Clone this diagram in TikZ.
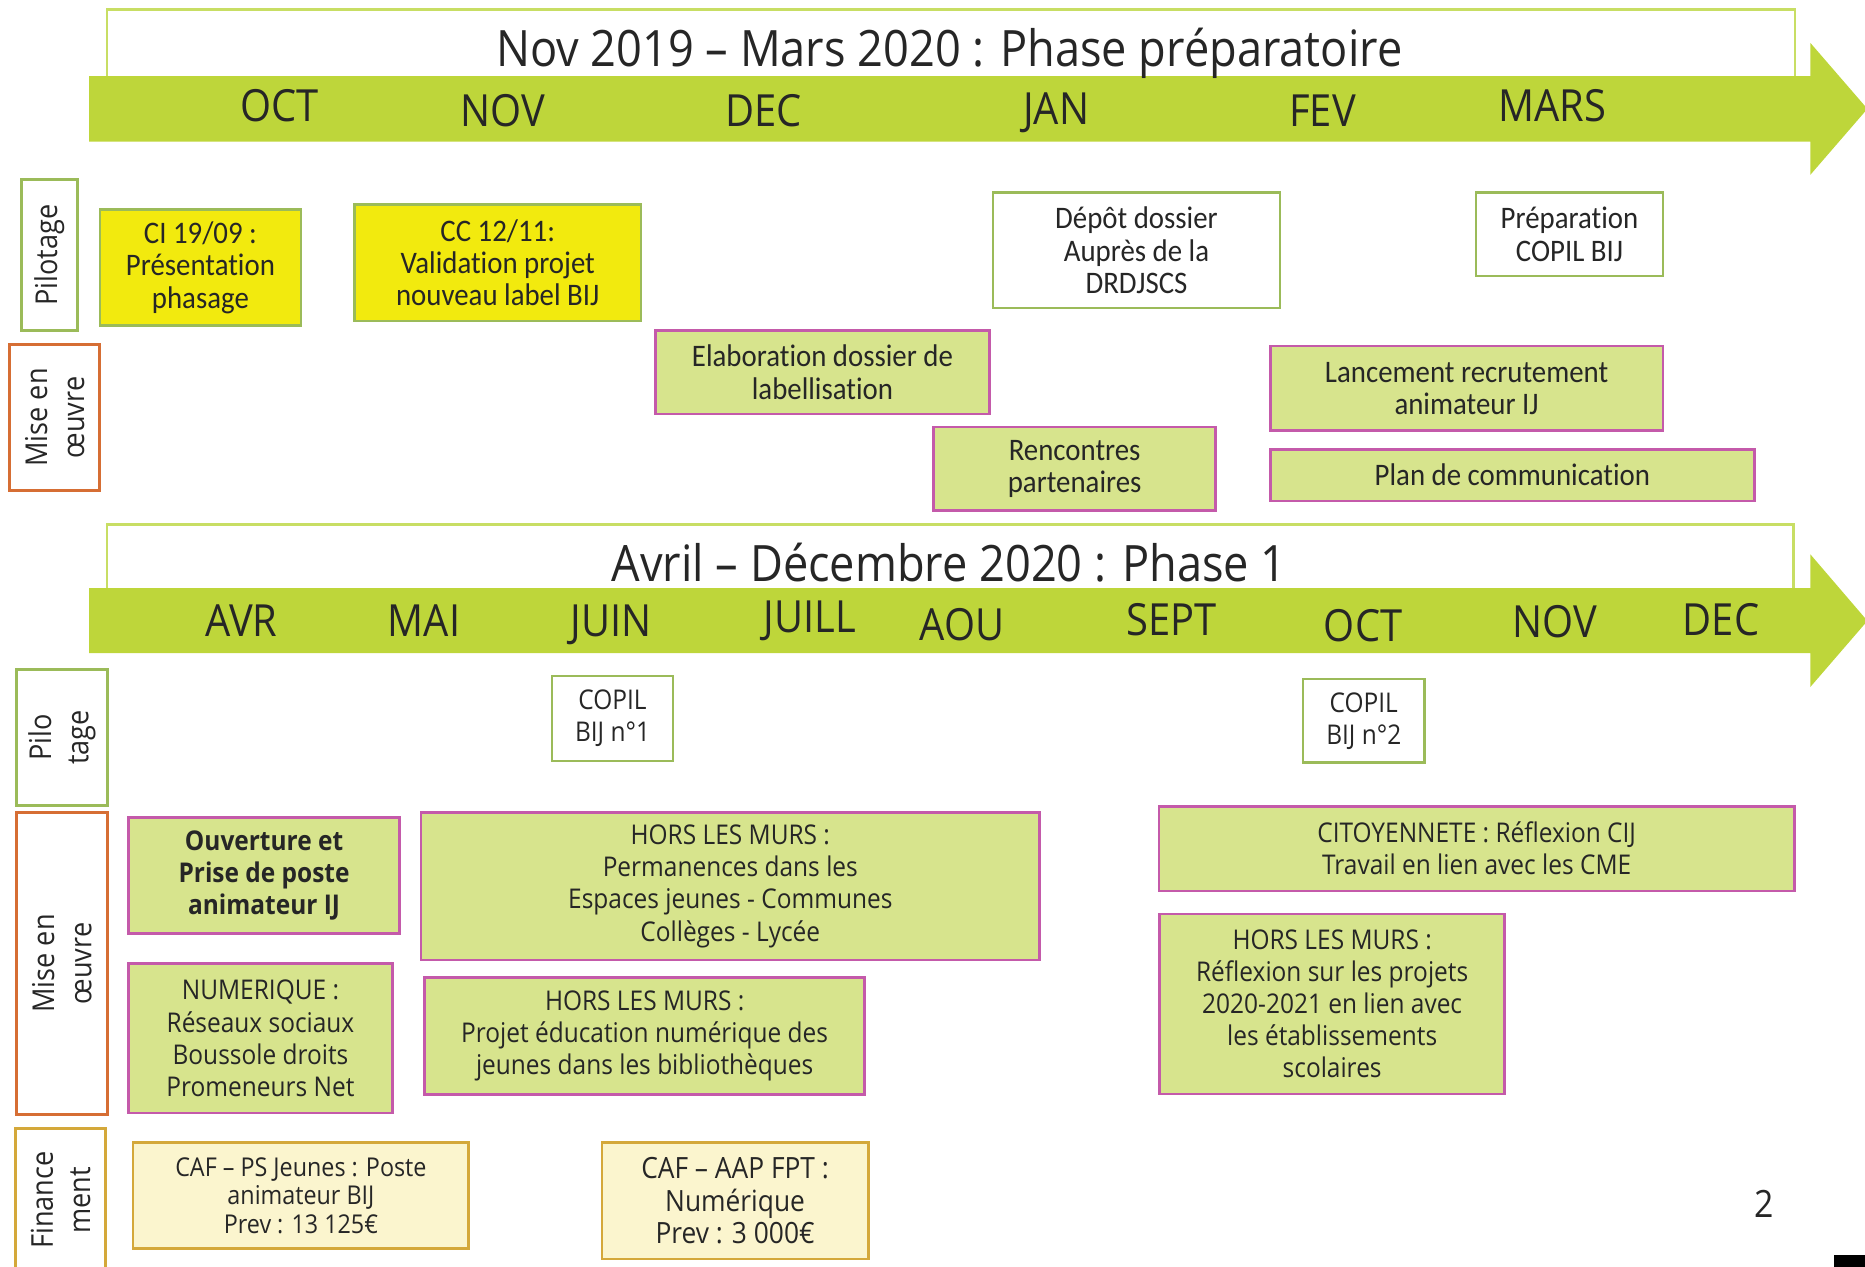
\documentclass[tikz,border=0pt]{standalone}
\usepackage{fontspec}
\setmainfont[FakeStretch=0.9]{Open Sans}
\newfontfamily\narrowfont[FakeStretch=0.92,Ligatures=NoCommon]{Carlito}
\usetikzlibrary{positioning}
\definecolor{limeband}{RGB}{190,214,58}
\definecolor{frameline}{RGB}{200,222,100}
\definecolor{olivegreen}{RGB}{155,187,89}
\definecolor{lemon}{RGB}{242,234,14}
\definecolor{palegreen}{RGB}{215,228,141}
\definecolor{orchid}{RGB}{196,90,170}
\definecolor{cream}{RGB}{251,245,206}
\definecolor{ochre}{RGB}{212,168,58}
\definecolor{rust}{RGB}{214,110,52}
\definecolor{ink}{RGB}{38,38,38}
\tikzset{
    % Timeline
    band color/.style={fill=limeband},
    title frame/.style={draw=frameline, line width=.6pt},
    phase title/.style={font=\fontsize{12}{14}\selectfont},
    month label/.style={font=\fontsize{10.6}{12}\selectfont},
    %
    % Row labels (rotated)
    row label/.style={draw, rotate=90, line width=.7pt, fill=white, inner sep=0pt, align=center, font=\fontsize{7.2}{8.9}\selectfont},
    steering label/.style={row label, draw=olivegreen},
    action label/.style={row label, draw=rust},
    funding label/.style={row label, draw=ochre},
    %
    % Boxes
    sized/.style 2 args={minimum width=#1cm, minimum height=#2cm},
    task/.style={draw, line width=.6pt, inner sep=0pt, align=center, font=\fontsize{6.5}{7.7}\selectfont},
    narrow/.style={font=\narrowfont\fontsize{7.5}{7.7}\selectfont},
    decision/.style={task, narrow, fill=lemon, draw=olivegreen},
    meeting/.style={task, fill=white, draw=olivegreen},
    action/.style={task, fill=palegreen, draw=orchid},
    funding/.style={task, fill=cream, draw=ochre, font=\fontsize{6.2}{6.8}\selectfont},
    page number/.style={font=\fontsize{9}{10}\selectfont}
}
\tikzstyle{every node}=[text=ink]
\begin{document}
\begin{tikzpicture}
    \useasboundingbox (0,0) rectangle (15.68,-10.65);
    % Phase preparatoire
    \draw[title frame] (.90,-.64) -- (.90,-.08) -- (15.09,-.08) -- (15.09,-.64);
    \fill[band color] (.75,-.64) -- (15.22,-.64) -- (15.22,-.36) -- (15.70,-.915) -- (15.22,-1.47) -- (15.22,-1.19) -- (.75,-1.19) -- cycle;
    \node[phase title] (title-prep) at (7.98,-.45) {Nov 2019 – Mars 2020 : Phase préparatoire};
    \foreach \mo/\x/\y in {OCT/2.35/.89, NOV/4.23/.93, DEC/6.42/.93, JAN/8.88/.95, FEV/11.12/.93, MARS/13.05/.89}
        \node[month label] (prep-\mo) at (\x,-\y) {\mo};
    \node[steering label, sized={1.27}{.47}] (pilot-prep) at (.415,-2.145) {Pilotage};
    \node[action label, sized={1.22}{.76}] (mise-prep) at (.46,-3.51) {Mise en\\œuvre};
    \node[decision, sized={1.69}{.975}] (ci) at (1.685,-2.25) {CI 19/09 :\\Présentation\\phasage};
    \node[decision, sized={2.41}{.98}] (cc) at (4.185,-2.21) {CC 12/11:\\Validation projet\\nouveau label BIJ};
    \node[meeting, narrow, sized={2.41}{.97}] (depot) at (9.555,-2.105) {Dépôt dossier\\Auprès de la\\DRDJSCS};
    \node[meeting, narrow, sized={1.57}{.70}] (prep-copil) at (13.195,-1.97) {Préparation\\COPIL BIJ};
    \node[action, narrow, sized={2.81}{.705}] (elab) at (6.915,-3.13) {Elaboration dossier de\\labellisation};
    \node[action, narrow, sized={2.37}{.70}] (rencontres) at (9.035,-3.94) {Rencontres\\partenaires};
    \node[action, narrow, sized={3.30}{.71}] (recrutement) at (12.33,-3.265) {Lancement recrutement\\animateur IJ};
    \node[action, narrow, sized={4.07}{.43}] (comm) at (12.715,-3.995) {Plan de communication};
    % Phase 1
    \draw[title frame] (.90,-4.945) -- (.90,-4.41) -- (15.08,-4.41) -- (15.08,-4.945);
    \fill[band color] (.75,-4.945) -- (15.22,-4.945) -- (15.22,-4.66) -- (15.70,-5.22) -- (15.22,-5.776) -- (15.22,-5.49) -- (.75,-5.49) -- cycle;
    \node[phase title] (title-one) at (7.98,-4.73) {Avril – Décembre 2020 : Phase 1};
    \foreach \mo/\x/\y in {AVR/2.03/5.22, MAI/3.565/5.22, JUIN/5.14/5.255, JUILL/6.81/5.22, AOU/8.09/5.25, SEPT/9.85/5.21, OCT/11.46/5.26, NOV/13.07/5.23, DEC/14.47/5.21}
        \node[month label] (one-\mo) at (\x,-\y) {\mo};
    \node[steering label, sized={1.15}{.76}] (pilot-one) at (.52,-6.20) {Pilo\\tage};
    \node[action label, sized={2.54}{.76}] (mise-one) at (.52,-8.10) {Mise en\\œuvre};
    \node[funding label, sized={1.21}{.76}] (finance-one) at (.51,-10.09) {Finance\\ment};
    \node[meeting, sized={1.02}{.715}] (copil-1) at (5.15,-6.04) {COPIL\\BIJ n°1};
    \node[meeting, sized={1.02}{.705}] (copil-2) at (11.466,-6.06) {COPIL\\BIJ n°2};
    \node[action, sized={2.28}{.975}, font=\bfseries\fontsize{6.5}{7.7}\selectfont] (ouverture) at (2.22,-7.36) {Ouverture et\\Prise de poste\\animateur IJ};
    \node[action, sized={2.22}{1.255}] (numerique) at (2.19,-8.73) {NUMERIQUE :\\Réseaux sociaux\\Boussole droits\\Promeneurs Net};
    \node[action, sized={5.20}{1.24}] (hors-perm) at (6.14,-7.45) {HORS LES MURS :\\Permanences dans les\\Espaces jeunes - Communes\\Collèges - Lycée};
    \node[action, sized={3.70}{.98}] (hors-biblio) at (5.42,-8.71) {HORS LES MURS :\\Projet éducation numérique des\\jeunes dans les bibliothèques};
    \node[action, sized={5.34}{.71}] (citoyennete) at (12.415,-7.134) {CITOYENNETE : Réflexion CIJ\\Travail en lien avec les CME};
    \node[action, sized={2.90}{1.515}] (hors-reflexion) at (11.20,-8.44) {HORS LES MURS :\\Réflexion sur les projets\\2020-2021 en lien avec\\les établissements\\scolaires};
    \node[funding, sized={2.82}{.89}] (caf-ps) at (2.53,-10.05) {CAF – PS Jeunes : Poste\\animateur BIJ\\Prev : 13 125€};
    \node[funding, sized={2.24}{.98}, font=\fontsize{7}{7.8}\selectfont] (caf-aap) at (6.18,-10.096) {CAF – AAP FPT :\\Numérique\\Prev : 3 000€};
    \node[page number] (page) at (14.83,-10.12) {2};
    \fill (15.42,-10.55) rectangle (15.68,-10.65);
\end{tikzpicture}
\end{document}
